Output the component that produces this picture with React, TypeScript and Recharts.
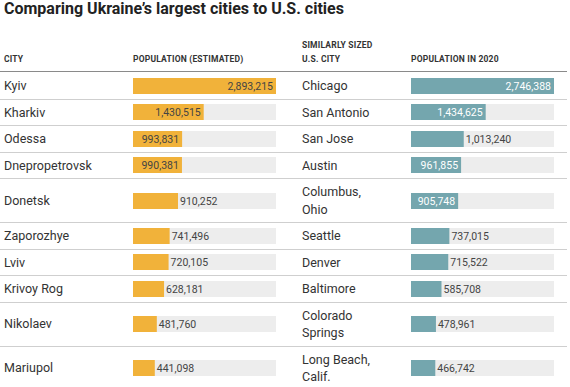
import { Bar, BarChart, LabelList, XAxis, YAxis } from 'recharts';

const ukCities = ['Kyiv', 'Kharkiv', 'Odessa', 'Dnepropetrovsk', 'Donetsk', 'Zaporozhye', 'Lviv', 'Krivoy Rog', 'Nikolaev', 'Mariupol'];
const ukPop = [2893215, 1430515, 993831, 990381, 910252, 741496, 720105, 628181, 481760, 441098];
const ukLabelInside = [true, true, true, true, false, false, false, false, false, false];

const usCities = ['Chicago', 'San Antonio', 'San Jose', 'Austin', 'Columbus, Ohio', 'Seattle', 'Denver', 'Baltimore', 'Colorado Springs', 'Long Beach, Calif.'];
const usPop = [2746388, 1434625, 1013240, 961855, 905748, 737015, 715522, 585708, 478961, 466742];
const usLabelInside = [true, true, false, true, true, false, false, false, false, false];

const headers = ['CITY', 'POPULATION (ESTIMATED)', 'SIMILARLY SIZED U.S. CITY', 'POPULATION IN 2020'];

const ORANGE = '#f1b23a';
const TEAL = '#74a6ae';
const TRACK = '#ededed';
const FONT = 'Roboto, "Liberation Sans", sans-serif';

const fmt = (v: number) => v.toLocaleString('en-US');

function RowBar({ value, max, color, inside, insideColor }: { value: number; max: number; color: string; inside: boolean; insideColor: string }) {
  const data = [{ name: 'v', value }];
  const renderLabel = (props: any) => {
    const { x, y, width, height } = props;
    const tx = inside ? x + width - 3 : x + width + 2;
    return (
      <text
        x={tx}
        y={y + height / 2}
        dy="0.35em"
        textAnchor={inside ? 'end' : 'start'}
        fontSize={10.5}
        fontFamily={FONT}
        fill={inside ? insideColor : '#444'}
      >
        {fmt(value)}
      </text>
    );
  };
  return (
    <BarChart width={143} height={16} data={data} layout="vertical" margin={{ top: 0, right: 0, bottom: 0, left: 0 }} barCategoryGap={0}>
      <XAxis type="number" domain={[0, max]} hide />
      <YAxis type="category" dataKey="name" hide />
      <Bar dataKey="value" fill={color} background={{ fill: TRACK }} isAnimationActive={false}>
        <LabelList dataKey="value" content={renderLabel} />
      </Bar>
    </BarChart>
  );
}

export default function App() {
  const ukMax = Math.max(...ukPop);
  const usMax = Math.max(...usPop);
  const textCell = { fontSize: 12.5, color: '#333', lineHeight: '17.5px' };
  const headCell = { fontSize: 8.5, fontWeight: 700, color: '#333', lineHeight: '14px', letterSpacing: 0.2, flexShrink: 0 };

  return (
    <div style={{ position: 'absolute', left: 0, top: 0, width: 570, height: 387, overflow: 'hidden', background: '#fff', fontFamily: FONT }}>
      <div style={{ position: 'absolute', left: 4, top: 0, fontSize: 16, fontWeight: 700, color: '#222', lineHeight: '18px', whiteSpace: 'nowrap' }}>
        Comparing Ukraine’s largest cities to U.S. cities
      </div>
      <div style={{ position: 'absolute', left: 0, top: 38, width: 567, height: 33, borderBottom: '1.5px solid #8a8a8a', display: 'flex', alignItems: 'flex-end' }}>
        <div style={{ ...headCell, width: 129, paddingLeft: 4, paddingBottom: 5 }}>{headers[0]}</div>
        <div style={{ ...headCell, width: 169, paddingBottom: 5 }}>{headers[1]}</div>
        <div style={{ ...headCell, width: 109, paddingBottom: 5, paddingRight: 25, boxSizing: 'border-box' }}>{headers[2]}</div>
        <div style={{ ...headCell, width: 156, paddingBottom: 5 }}>{headers[3]}</div>
      </div>
      <div style={{ position: 'absolute', left: 0, top: 73, width: 567 }}>
        {ukCities.map((city, i) => (
          <div key={city} style={{ display: 'flex', alignItems: 'center', borderBottom: '1px solid #cfcfcf', padding: '4px 0' }}>
            <div style={{ ...textCell, width: 129, paddingLeft: 4, flexShrink: 0 }}>{city}</div>
            <div style={{ width: 169, flexShrink: 0 }}>
              <RowBar value={ukPop[i]} max={ukMax} color={ORANGE} inside={ukLabelInside[i]} insideColor="#444" />
            </div>
            <div style={{ width: 109, flexShrink: 0 }}>
              <div style={{ ...textCell, width: 78 }}>{usCities[i]}</div>
            </div>
            <div style={{ width: 156, flexShrink: 0 }}>
              <RowBar value={usPop[i]} max={usMax} color={TEAL} inside={usLabelInside[i]} insideColor="#fff" />
            </div>
          </div>
        ))}
      </div>
    </div>
  );
}
